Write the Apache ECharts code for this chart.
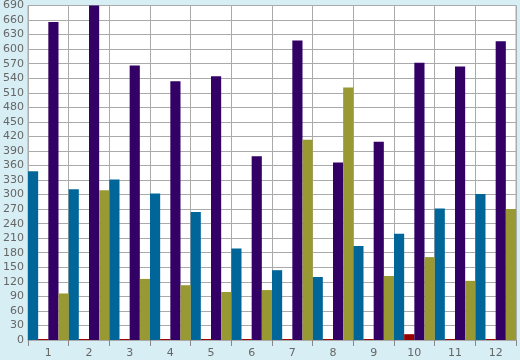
<!DOCTYPE html>
<html><head><meta charset="utf-8">
<script src="https://cdn.jsdelivr.net/npm/echarts@6/dist/echarts.min.js"></script>
<style>html,body{margin:0;padding:0;background:#d7eef5}#c{width:520px;height:360px}</style>
</head><body><div id="c"></div>
<script>
var categories = ['1','2','3','4','5','6','7','8','9','10','11','12'];
var blueValues   = [348, 311, 331, 302, 264, 189, 144, 130, 194, 219, 271, 301];
var redValues    = [2, 2, 2, 2, 2, 2, 2, 2, 2, 12, 2, 2];
var purpleValues = [656, 690, 566, 534, 544, 379, 618, 366, 409, 572, 564, 616];
var oliveValues  = [96, 309, 126, 113, 99, 103, 413, 521, 132, 171, 122, 270];

var chart = echarts.init(document.getElementById('c'), null, {renderer:'canvas'});
function bar(name, data, color){
  return {name:name, type:'bar', data:data, barGap:'0%', barCategoryGap:'0%',
    itemStyle:{color:color}, animation:false};
}
chart.setOption({
  backgroundColor:'#d7eef5',
  animation:false,
  grid:{left:26, right:4, top:5, bottom:20, show:true, backgroundColor:'#ffffff', borderColor:'#aaaaaa', borderWidth:1},
  xAxis:{type:'category', data:categories,
    axisLine:{show:true, lineStyle:{color:'#aaaaaa', width:1}},
    axisTick:{show:true, length:6, lineStyle:{color:'#888888'}},
    axisLabel:{color:'#666666', fontFamily:'DejaVu Sans', fontSize:11, margin:8},
    splitLine:{show:true, lineStyle:{color:'#aaaaaa', width:1}}},
  yAxis:{type:'value', min:0, max:690, interval:30,
    axisLine:{show:true, lineStyle:{color:'#aaaaaa'}},
    axisTick:{show:false},
    axisLabel:{color:'#666666', fontFamily:'DejaVu Sans', fontSize:11, margin:4},
    splitLine:{show:true, lineStyle:{color:'#aaaaaa', width:1}}},
  series:[
    bar('A', blueValues, '#00669a'),
    bar('B', redValues, '#990000'),
    bar('C', purpleValues, '#330066'),
    bar('D', oliveValues, '#999933')
  ]
});
</script></body></html>
